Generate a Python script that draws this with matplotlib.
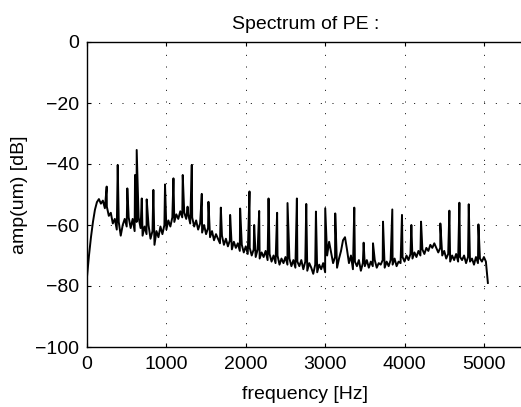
import numpy as np
import matplotlib.pyplot as plt

plt.rcParams['font.family'] = ['Liberation Sans', 'DejaVu Sans']

# noise floor, read every 25 Hz from 0 to 5050 Hz (dB), one row = 250 Hz
base_db = [
    -77, -70, -64, -59, -55, -52.5, -51.5, -53, -52, -54.5,
    -54, -57, -56, -59.5, -58, -61.5, -59, -63.5, -60, -58,
    -60.5, -57.5, -61, -58, -62, -59, -57.5, -61, -63.5, -60.5,
    -63, -60, -64.5, -62, -66.5, -62, -64, -60.5, -63, -60,
    -61.5, -58.5, -60.5, -57.5, -59, -56.5, -58, -55.5, -57.5, -56,
    -58, -56.5, -59.5, -57.5, -60.5, -58.5, -61.5, -59.5, -62.5, -60,
    -63, -61, -64, -62, -65, -63, -64.5, -66, -63.5, -66.5,
    -64.5, -67, -65, -68, -65.5, -67.5, -66, -68.5, -66.5, -69,
    -67, -69.5, -67.5, -70, -68, -70.5, -68, -71, -69, -70.5,
    -68.5, -71.5, -69.5, -72, -70, -72.5, -70, -73, -71, -72.5,
    -70.5, -73, -71, -73.5, -71.5, -74, -72, -73.5, -71.5, -74.5,
    -72, -75, -72.5, -74, -76, -73, -75.5, -73, -74.5, -72.5,
    -75.5, -70, -65.5, -69, -72.5, -70.5, -74, -71, -68.5, -65,
    -64, -68, -72.5, -70, -74.5, -72, -73.5, -71.5, -75, -72.5,
    -73.5, -71.5, -74, -72, -73.5, -71.5, -74, -72.5, -73, -71.5,
    -74, -72, -73.5, -71.5, -73, -71, -73.5, -72, -72.5, -70.5,
    -72, -70, -71.5, -69.5, -71, -69, -70.5, -68.5, -70, -68,
    -69.5, -67.5, -68.5, -66.5, -67.5, -66, -67.5, -69, -67.5, -70,
    -68.5, -71, -69.5, -72, -70, -71.5, -69.5, -72, -70.5, -71.5,
    -70, -72.5, -70.5, -72, -71, -73, -70.5, -72.5, -71, -72,
    -70.5, -72, -79,
]
base_hz = np.arange(len(base_db)) * 25.0

# harmonic peaks (Hz, dB)
peak_hz = [248, 387, 508, 605, 626, 690, 752, 836, 983, 1089, 1206, 1267,
           1320, 1446, 1530, 1686, 1803, 1929, 2047, 2106, 2169, 2287, 2395,
           2526, 2644, 2762, 2884, 3001, 3127, 3367, 3485, 3603, 3729, 3846,
           3968, 4086, 4208, 4451, 4565, 4691, 4809, 4931]
peak_db = [-47.4, -40.3, -48, -43.6, -35.4, -51.3, -51.6, -48.5, -46.7, -44.7,
           -43.6, -54, -40.3, -49.8, -52.4, -54.3, -56.7, -54.6, -49, -60,
           -55.4, -51.3, -56, -52.8, -51.3, -53.1, -55.6, -54.5, -56.2, -54.3,
           -65.8, -66, -58.9, -54.9, -56.7, -60, -58.9, -59.5, -55.3, -52.7,
           -53.2, -59.8]

freq = np.concatenate([base_hz, peak_hz])
amp = np.concatenate([base_db, peak_db])
order = np.argsort(freq, kind='stable')
freq, amp = freq[order], amp[order]

fig = plt.figure(figsize=(5.21, 4.07), dpi=100)
ax = fig.add_axes([87/521, 1 - 347/407, 436.6/521, 305/407])
ax.plot(freq, amp, color='k', lw=1.4)

ax.set_xlim(0, 5500)
ax.set_ylim(-100, 0)
ax.set_xticks([0, 1000, 2000, 3000, 4000, 5000])
ax.set_yticks([-100, -80, -60, -40, -20, 0])
ax.grid(True, color='k', lw=0.7, linestyle=(0, (1, 11)))
ax.tick_params(direction='in', length=3, top=True, right=True,
               labelsize=14, width=0.8)
ax.tick_params(axis='x', pad=6.5)
ax.tick_params(axis='y', pad=5.5)
for s in ax.spines.values():
    s.set_linewidth(1.0)

ax.set_xlabel('frequency [Hz]', fontsize=14, labelpad=9)
ax.set_ylabel('amp(um) [dB]', fontsize=14, labelpad=5)
ax.set_title('Spectrum of PE :', fontsize=14, pad=9.5)

fig.savefig('out.png', dpi=100)
